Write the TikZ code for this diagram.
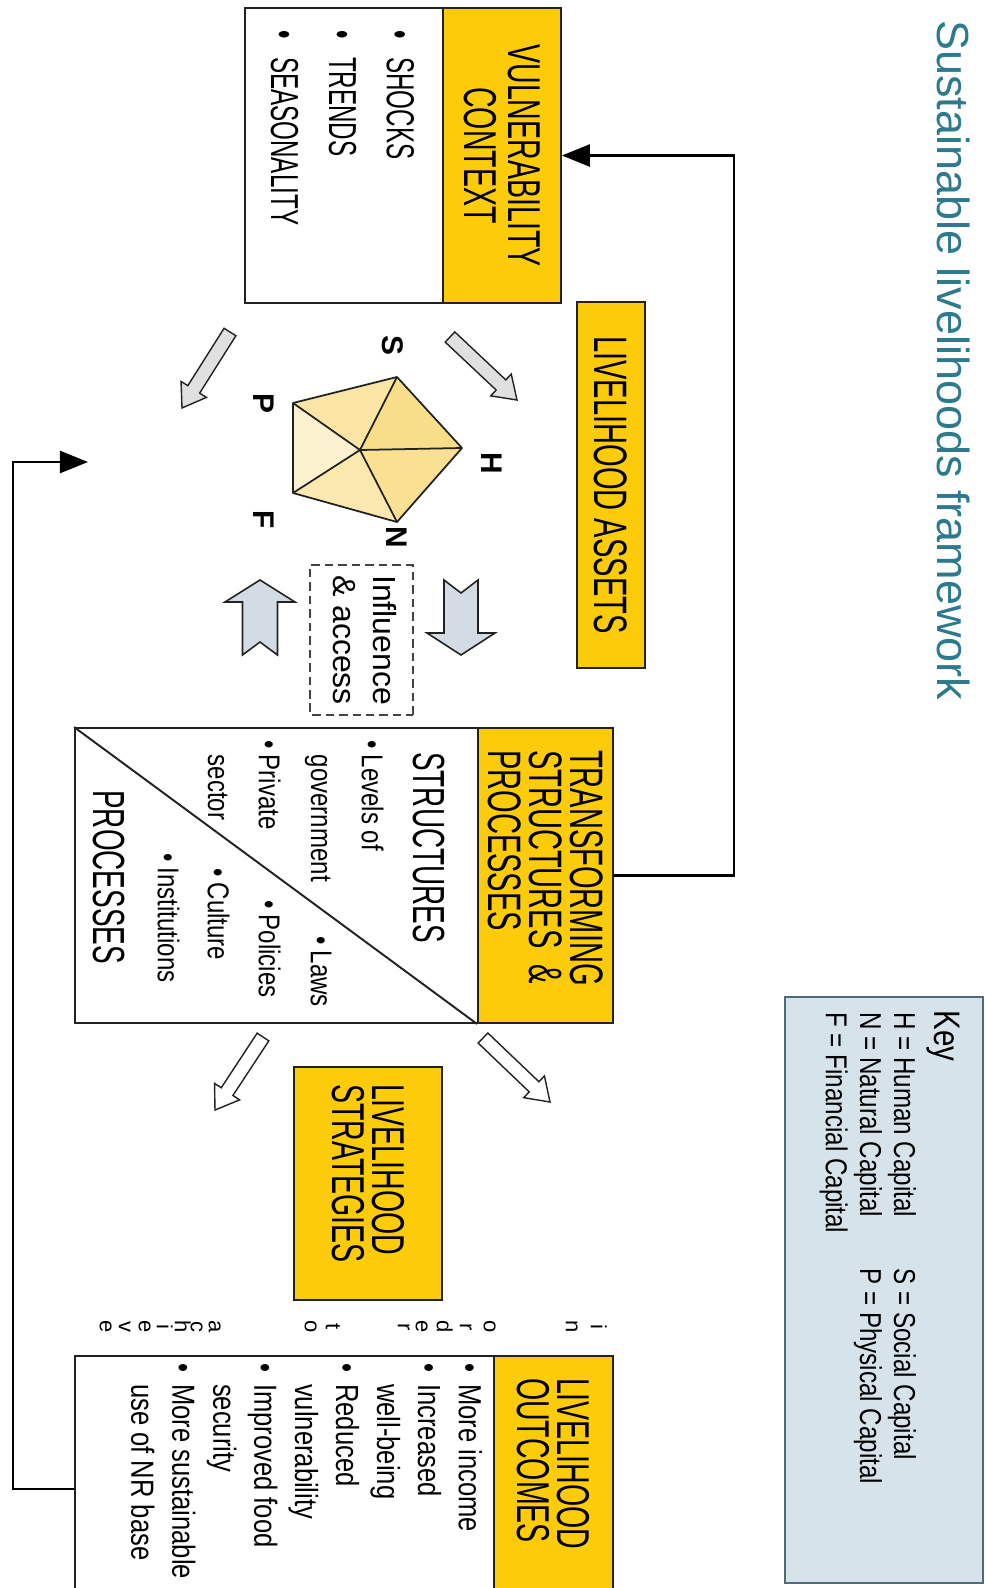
\documentclass[tikz,border=0pt]{standalone}
\usepackage{fontspec}
\setmainfont{Liberation Sans}
\newfontfamily\condfont{Liberation Sans}[FakeStretch=0.62]
\newfontfamily\semifont{Liberation Sans}[FakeStretch=0.8]
\usetikzlibrary{arrows.meta,calc,positioning}
\definecolor{headColor}{HTML}{FCCB0A}
\definecolor{boxLine}{HTML}{222222}
\definecolor{titleColor}{HTML}{2C7A8C}
\definecolor{keyColor}{HTML}{D7E3EA}
\definecolor{keyLine}{HTML}{4F6B78}
\definecolor{arrowGray}{HTML}{E0E0E0}
\definecolor{blockGray}{HTML}{D3DCE4}
\definecolor{pentA}{HTML}{F9DE8A}
\definecolor{pentB}{HTML}{F9E092}
\definecolor{pentC}{HTML}{FBE8AE}
\definecolor{pentD}{HTML}{FDF2D0}
\definecolor{pentE}{HTML}{FAE5A4}
\newcommand{\fsz}[2]{\fontsize{#1}{#2}\selectfont}
\newcommand{\rows}[1]{\begin{tabular}[t]{@{}l@{}}#1\end{tabular}}
\newcommand{\itm}[1][0.2em]{\textbullet\hspace{#1}}
\newcommand{\cont}[1][0.2em]{\phantom{\textbullet}\hspace{#1}}
\newcommand{\hollowarrow}[3][arrowGray]{%
	\coordinate (hb) at ($(#3)!0.44cm!(#2)$);
	\filldraw[fill=#1, draw=boxLine, line width=0.8pt]
	($(#2)!0.14cm!90:(#3)$) -- ($(hb)!0.14cm!90:(#3)$) -- ($(hb)!0.3cm!90:(#3)$) -- (#3)
	-- ($(hb)!0.3cm!-90:(#3)$) -- ($(hb)!0.14cm!-90:(#3)$) -- ($(#2)!0.14cm!-90:(#3)$) -- cycle;}
\tikzset{
	outerbox/.style={draw=boxLine, line width=1.1pt, fill=white, inner sep=0pt},
	headbox/.style={outerbox, fill=headColor, font=\condfont\fsz{26.2pt}{22.8pt}},
	keybox/.style={draw=keyLine, line width=1.1pt, fill=keyColor, inner sep=0pt},
	keytxt/.style={anchor=base west, inner sep=0pt, font=\semifont\fsz{17.2pt}{17.2pt}},
	itemtxt/.style={anchor=base west, inner sep=0pt, font=\semifont\fsz{17.1pt}{29pt}},
	bigtxt/.style={anchor=base west, inner sep=0pt, font=\condfont\fsz{25.6pt}{25.6pt}},
	caplbl/.style={inner sep=0pt, font=\bfseries\fsz{17pt}{17pt}},
	vletter/.style={anchor=base, inner sep=0pt, font=\fsz{12.5pt}{12.5pt}},
	pentline/.style={draw=boxLine, line width=1pt, line join=round},
	blockarrow/.style={fill=blockGray, draw=boxLine, line width=0.9pt},
	inflbox/.style={draw=boxLine!85, line width=1pt, dash pattern=on 0.17cm off 0.1cm, inner sep=0pt},
	fbline/.style={draw=black, line width=1.4pt, -{Triangle[length=0.56cm,width=0.44cm]}}
}
\begin{document}
\begin{tikzpicture}[x=0.02cm, y=-0.02cm, rotate=-90, transform shape]
	\path[use as bounding box, fill=white] (0,0) rectangle (1588,986);
	% title and key
	\node[anchor=base west, inner sep=0pt, text=titleColor, font=\fsz{25.6pt}{25.6pt}] (title) at (20,49) {Sustainable livelihoods framework};
	\node[keybox, minimum width=11.72cm, minimum height=3.96cm] (key) at (1290,102) {};
	\node[keytxt, font=\semifont\fsz{21pt}{21pt}] (keyt) at (1010,52) {Key};
	\node[keytxt] (keyH) at (1012,92) {H = Human Capital};
	\node[keytxt] (keyN) at (1012,126) {N = Natural Capital};
	\node[keytxt] (keyF) at (1012,160) {F = Financial Capital};
	\node[keytxt] (keyS) at (1268,92) {S = Social Capital};
	\node[keytxt] (keyP) at (1268,126) {P = Physical Capital};
	% vulnerability context
	\node[outerbox, minimum width=5.9cm, minimum height=6.32cm] (vuln) at (155.5,583) {};
	\node[headbox, font=\condfont\fsz{26.2pt}{25pt}, align=center, minimum width=5.9cm, minimum height=2.36cm] (vulnhead) at (155.5,484) {VULNERABILITY\\CONTEXT};
	\node[anchor=base west, inner sep=0pt, font=\condfont\fsz{22.2pt}{33pt}] (vulnitems) at (30,599) {\rows{\itm[0.47em]SHOCKS\\\itm[0.47em]TRENDS\\\itm[0.47em]SEASONALITY}};
	% livelihood assets
	\node[headbox, font=\condfont\fsz{26.7pt}{26.7pt}, minimum width=7.32cm, minimum height=1.36cm] (assets) at (485,375) {LIVELIHOOD ASSETS};
	\coordinate (aS) at (377,589);
	\coordinate (aH) at (448,524);
	\coordinate (aN) at (522,589);
	\coordinate (aF) at (493,693);
	\coordinate (aP) at (403,693);
	\coordinate (aC) at (450,626);
	\fill[pentA] (aC) -- (aS) -- (aH) -- cycle;
	\fill[pentB] (aC) -- (aH) -- (aN) -- cycle;
	\fill[pentC] (aC) -- (aN) -- (aF) -- cycle;
	\fill[pentD] (aC) -- (aF) -- (aP) -- cycle;
	\fill[pentE] (aC) -- (aP) -- (aS) -- cycle;
	\draw[pentline] (aS) -- (aH) -- (aN) -- (aF) -- (aP) -- cycle;
	\draw[pentline] (aC) -- (aS) (aC) -- (aH) (aC) -- (aN) (aC) -- (aF) (aC) -- (aP);
	\node[caplbl] (lblH) at (463,494) {H};
	\node[caplbl] (lblS) at (345,593) {S};
	\node[caplbl] (lblN) at (537,589) {N};
	\node[caplbl] (lblP) at (403,722) {P};
	\node[caplbl] (lblF) at (520,722) {F};
	% arrows from the vulnerability context
	\coordinate (vulnA) at (337,536);
	\coordinate (vulnAe) at (400,469);
	\coordinate (vulnB) at (332,756);
	\coordinate (vulnBe) at (408,804);
	\hollowarrow{vulnA}{vulnAe}
	\hollowarrow{vulnB}{vulnBe}
	% influence & access
	\node[inflbox, minimum width=3.0cm, minimum height=2.06cm, font=\fsz{18.2pt}{22.8pt}] (infl) at (640,624.5) {\rows{Influence\\\& access}};
	\filldraw[blockarrow] (580,508) -- (633,508) -- (633,491) -- (655,525) -- (633,559) -- (633,542) -- (580,542) -- (593,525) -- cycle;
	\filldraw[blockarrow] (580,726) -- (602,691) -- (602,708.5) -- (655,708.5) -- (642,726) -- (655,743.5) -- (602,743.5) -- (602,761) -- cycle;
	% transforming structures & processes
	\node[outerbox, minimum width=5.9cm, minimum height=10.76cm] (trans) at (875.5,642) {};
	\node[headbox, font=\condfont\fsz{26.7pt}{23.3pt}, text width=5.02cm, inner xsep=0.44cm, align=left, minimum height=2.7cm] (transhead) at (875.5,440.5) {TRANSFORMING\\STRUCTURES \&\\PROCESSES};
	\draw[draw=boxLine, line width=1.1pt] (transhead.south east) -- (trans.south west);
	\node[bigtxt] (struct) at (752,572) {STRUCTURES};
	\node[bigtxt] (proc) at (790,892) {PROCESSES};
	\node[itemtxt] (levels) at (740,624) {\rows{\itm Levels of\\\cont government}};
	\node[itemtxt] (private) at (740,727) {\rows{\itm Private\\\cont sector}};
	\node[itemtxt] (laws) at (936,675) {\itm Laws};
	\node[itemtxt] (policies) at (900,727) {\itm Policies};
	\node[itemtxt] (culture) at (868,778) {\itm Culture};
	\node[itemtxt] (instit) at (853,828) {\itm Institutions};
	\coordinate (transA) at (1038,503);
	\coordinate (transAe) at (1102,436);
	\coordinate (transB) at (1037,723);
	\coordinate (transBe) at (1110,771);
	\hollowarrow[white]{transA}{transAe}
	\hollowarrow[white]{transB}{transBe}
	% livelihood strategies
	\node[headbox, text width=3.98cm, inner xsep=0.34cm, align=left, minimum height=2.96cm] (strat) at (1183.5,618) {LIVELIHOOD\\STRATEGIES};
	\foreach \ch/\v in {i/390,n/415,o/497,r/521,d/544,e/565,r/583,t/655,o/676,a/772,c/790,h/806,i/824,e/842,v/862,e/881}
		\node[vletter] (ltr\v) at (1327,\v+5) {\ch};
	% livelihood outcomes
	\node[outerbox, minimum width=5.32cm, minimum height=10.76cm] (outc) at (1489,642) {};
	\node[headbox, text width=4.44cm, inner xsep=0.44cm, align=left, minimum height=2.38cm] (outchead) at (1489,432.5) {LIVELIHOOD\\OUTCOMES};
	\node[itemtxt, font=\semifont\fsz{18.2pt}{23.3pt}] (outcitems) at (1363,527) {\rows{\itm[0.37em]More income\\\itm[0.37em]Increased\\\cont[0.37em]well-being\\\itm[0.37em]Reduced\\\cont[0.37em]vulnerability\\\itm[0.37em]Improved food\\\cont[0.37em]security\\\itm[0.37em]More sustainable\\\cont[0.37em]use of NR base}};
	% feedback lines
	\coordinate (assetsIn) at (462,898);
	\draw[fbline] (trans.north) -- ++(0,-120) -| (vuln.north);
	\draw[fbline] (outc.south) -- ++(0,61) -| (assetsIn);
\end{tikzpicture}
\end{document}
